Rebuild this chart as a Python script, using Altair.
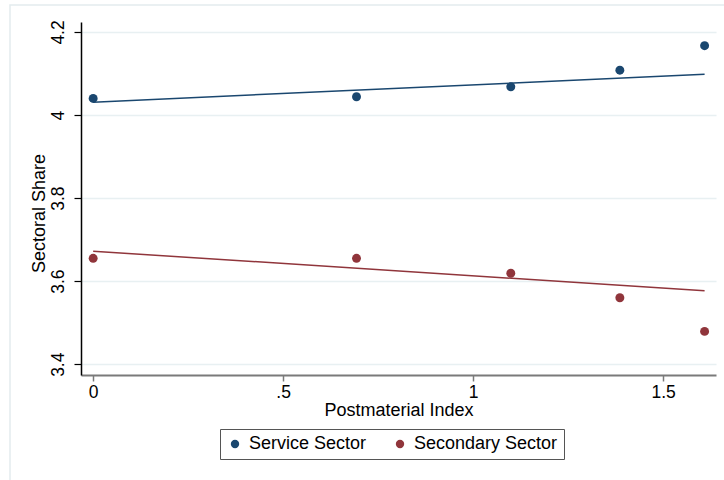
import altair as alt
import pandas as pd

# Observed sector shares by postmaterial index
postmaterial = [0, 0.693, 1.099, 1.386, 1.609]
service = [4.040, 4.044, 4.068, 4.108, 4.167]
secondary = [3.655, 3.655, 3.619, 3.560, 3.479]

# Fitted lines (endpoints)
fit_x = [0, 1.609]
service_fit = [4.031, 4.098]
secondary_fit = [3.672, 3.577]

sectors = ["Service Sector", "Secondary Sector"]
colors = ["#1a476f", "#90353b"]

points = pd.DataFrame(
    {
        "x": postmaterial * 2,
        "y": service + secondary,
        "sector": [sectors[0]] * len(postmaterial) + [sectors[1]] * len(postmaterial),
    }
)
fits = pd.DataFrame(
    {
        "x": fit_x * 2,
        "y": service_fit + secondary_fit,
        "sector": [sectors[0]] * len(fit_x) + [sectors[1]] * len(fit_x),
    }
)

FONT = "Liberation Sans"

x_scale = alt.Scale(domain=[-0.032, 1.639], nice=False, zero=False)
y_scale = alt.Scale(domain=[3.374, 4.224], nice=False, zero=False)
color_scale = alt.Scale(domain=sectors, range=colors)

x_axis = alt.Axis(
    title="Postmaterial Index",
    values=[0, 0.5, 1, 1.5],
    format="~g",
    labelExpr="datum.value > 0 && datum.value < 1 ? substring(datum.label, 1) : datum.label",
    grid=False,
    domainColor="#7a7a7a",
    domainWidth=2,
    tickColor="#7a7a7a",
    tickWidth=1.5,
    tickSize=6,
    labelPadding=2,
    titlePadding=1,
)
y_axis = alt.Axis(
    title="Sectoral Share",
    values=[3.4, 3.6, 3.8, 4.0, 4.2],
    format="~g",
    labelAngle=270,
    labelAlign="center",
    labelBaseline="bottom",
    grid=True,
    gridColor="#e8f0f2",
    gridWidth=1.5,
    domainColor="#000000",
    domainWidth=1.5,
    tickColor="#000000",
    tickWidth=1.2,
    tickSize=7,
    labelPadding=7,
    titlePadding=1,
    titleY=191,
)

# trailing no-break spaces widen the right side of the legend box
legend = alt.Legend(
    title=None,
    orient="none",
    legendX=139,
    legendY=407,
    direction="horizontal",
    symbolType="circle",
    symbolSize=70,
    symbolStrokeWidth=0,
    labelOffset=5,
    columnPadding=24,
    padding=6,
    strokeColor="#555555",
    fillColor="white",
    labelFontSize=18,
    labelFont=FONT,
    labelColor="#000000",
    labelExpr="datum.label == 'Secondary Sector' ? datum.label + '\u00a0\u00a0\u00a0\u00a0\u00a0\u00a0' : datum.label",
)

frame = (
    alt.Chart(pd.DataFrame({"a": [0]}))
    .mark_rect(fill="transparent", stroke="#e3ecee", strokeWidth=1.5)
    .encode(x=alt.value(-71), x2=alt.value(760), y=alt.value(-17), y2=alt.value(520))
)

dots = (
    alt.Chart(points)
    .mark_circle(size=80, opacity=1)
    .encode(
        x=alt.X("x:Q", scale=x_scale, axis=x_axis),
        y=alt.Y("y:Q", scale=y_scale, axis=y_axis),
        color=alt.Color("sector:N", scale=color_scale, legend=legend),
    )
)

lines = (
    alt.Chart(fits)
    .mark_line(strokeWidth=1.5)
    .encode(
        x="x:Q",
        y="y:Q",
        color=alt.Color("sector:N", scale=color_scale, legend=legend),
    )
)

chart = (
    alt.layer(frame, dots, lines)
    .properties(
        width=635,
        height=353,
        autosize=alt.AutoSizeParams(type="none"),
        padding={"left": 81, "top": 22, "right": 8, "bottom": 105},
        background="white",
    )
    .configure_view(stroke=None)
    .configure_axis(
        labelFont=FONT,
        titleFont=FONT,
        labelFontSize=17.5,
        titleFontSize=18,
        titleFontWeight="normal",
        labelColor="#000000",
        titleColor="#000000",
    )
)

chart.save("out.html", embed_options={"renderer": "svg", "actions": False})
